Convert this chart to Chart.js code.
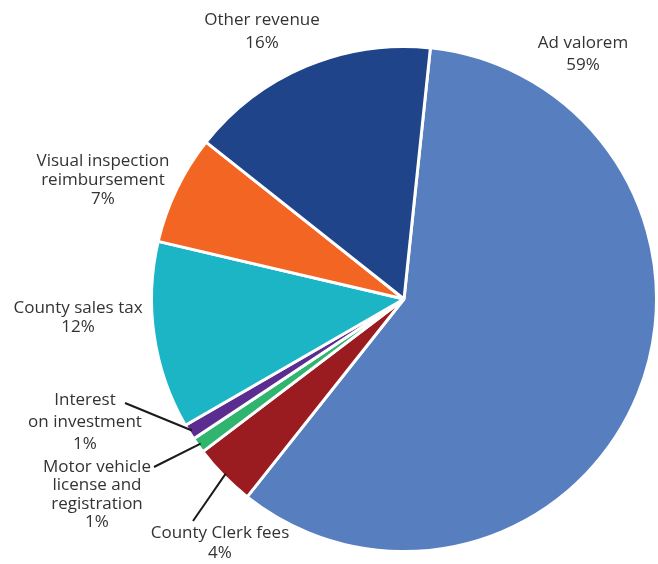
<!DOCTYPE html>
<html>
<head>
<meta charset="utf-8">
<script src="https://cdn.jsdelivr.net/npm/chart.js@4"></script>
<style>
  html, body { margin: 0; padding: 0; background: #fff; }
  #wrap { width: 658px; height: 564px; }
</style>
</head>
<body>
<div id="wrap"><canvas id="pie" width="658" height="564"></canvas></div>
<script>
const categories = [
  "Ad valorem",
  "County Clerk fees",
  "Motor vehicle license and registration",
  "Interest on investment",
  "County sales tax",
  "Visual inspection reimbursement",
  "Other revenue"
];
const shares = [59, 4, 1, 1, 12, 7, 16];
const sliceColors = ["#577ebf", "#9b1c20", "#2fb56e", "#5c2d91", "#1bb5c6", "#f26522", "#1f4489"];

// text lines shown for each slice (the percent line comes from shares)
const labelLines = [
  ["Ad valorem"],
  ["County Clerk fees"],
  ["Motor vehicle", "license and", "registration"],
  ["Interest", "on investment"],
  ["County sales tax"],
  ["Visual inspection", "reimbursement"],
  ["Other revenue"]
];

// where each label block sits: centre x, first line middle y, line step
const labelLayout = [
  { x: 583, y: 43, step: 22 },
  { x: 220, y: 533, step: 20 },
  { x: 97, y: 467, step: 18.5 },
  { x: 85, y: 400, step: 22 },
  { x: 78, y: 308, step: 19 },
  { x: 103, y: 161, step: 19 },
  { x: 262, y: 20, step: 23 }
];

// leader lines: slice index -> label end point
const leaders = [
  { index: 3, x: 125, y: 403 },
  { index: 2, x: 154, y: 467 },
  { index: 1, x: 193, y: 521 }
];

const pieLabels = {
  id: "pieLabels",
  afterDatasetsDraw(chart) {
    const ctx = chart.ctx;
    const arcs = chart.getDatasetMeta(0).data;
    ctx.save();

    ctx.strokeStyle = "#1a1a1a";
    ctx.lineWidth = 2;
    leaders.forEach(l => {
      const a = arcs[l.index].getProps(["x", "y", "startAngle", "endAngle", "outerRadius"], true);
      const mid = (a.startAngle + a.endAngle) / 2;
      const r = a.outerRadius - 3;
      ctx.beginPath();
      ctx.moveTo(l.x, l.y);
      ctx.lineTo(a.x + Math.cos(mid) * r, a.y + Math.sin(mid) * r);
      ctx.stroke();
    });

    ctx.fillStyle = "#333333";
    ctx.font = "17px 'Open Sans', sans-serif";
    ctx.textAlign = "center";
    ctx.textBaseline = "middle";
    labelLines.forEach((lines, i) => {
      const pos = labelLayout[i];
      const all = lines.concat([shares[i] + "%"]);
      all.forEach((t, k) => ctx.fillText(t, pos.x, pos.y + k * pos.step));
    });
    ctx.restore();
  }
};

new Chart(document.getElementById("pie"), {
  type: "pie",
  data: {
    labels: categories,
    datasets: [{
      data: shares,
      backgroundColor: sliceColors,
      borderColor: "#ffffff",
      borderWidth: 3,
      hoverOffset: 0
    }]
  },
  options: {
    responsive: false,
    animation: false,
    rotation: 6,
    layout: { padding: { left: 150, right: 0, top: 44, bottom: 10 } },
    plugins: {
      legend: { display: false },
      tooltip: { enabled: false }
    }
  },
  plugins: [pieLabels]
});
</script>
</body>
</html>
